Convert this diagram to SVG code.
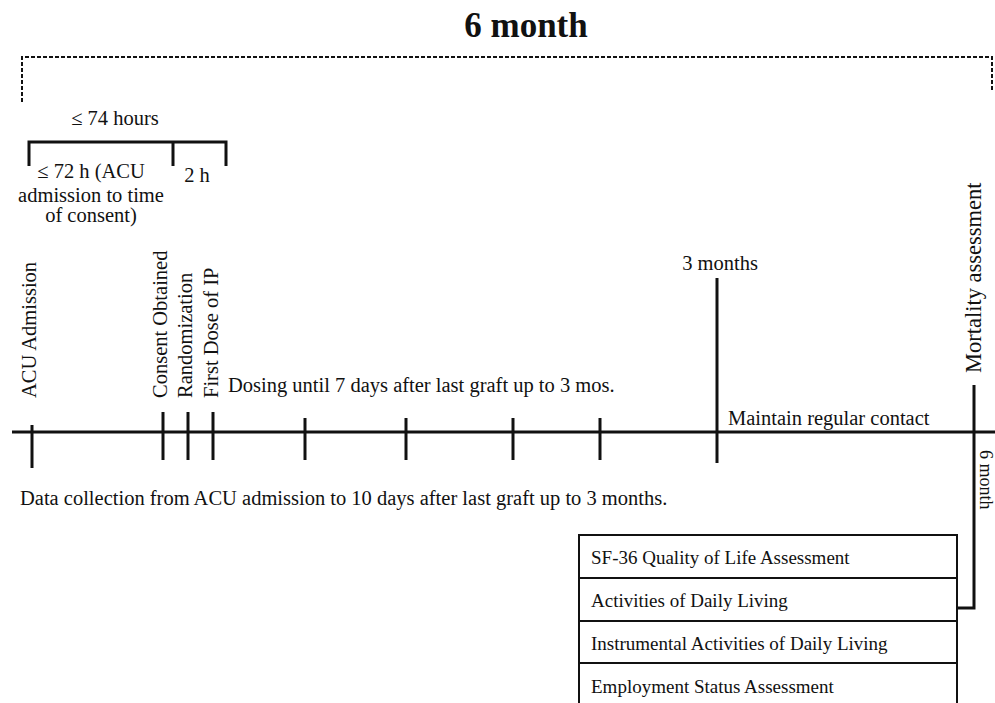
<svg xmlns="http://www.w3.org/2000/svg" width="995" height="703" viewBox="0 0 995 703">
<style>
text{font-family:"Liberation Serif","Times New Roman",serif;fill:#111;font-size:20.5px}
.title{font-size:35px;font-weight:bold}
.big{font-size:22.5px}
.tbl{font-size:19px}
.edge{font-size:18px}
.ln{stroke:#111;stroke-width:3;fill:none}
.tk{stroke:#111;stroke-width:3}
.dash{stroke:#111;stroke-width:2;fill:none;stroke-dasharray:4 2}
.grid{stroke:#111;stroke-width:2;fill:none}
</style>
<rect width="995" height="703" fill="#fff"/>
<g id="title">
<text class="title" x="526" y="37" text-anchor="middle">6 month</text>
<path class="dash" d="M22,102 V57 H992 V92"/>
</g>
<g id="bracket74">
<text x="115" y="125" text-anchor="middle">≤ 74 hours</text>
<path class="ln" d="M29,166 V142 H226 V166 M173,142 V166"/>
<text x="91" y="178" text-anchor="middle">≤ 72 h (ACU</text>
<text x="91" y="202" text-anchor="middle">admission to time</text>
<text x="91" y="222" text-anchor="middle">of consent)</text>
<text x="197" y="182" text-anchor="middle">2 h</text>
</g>
<g id="labels">
<text x="36" y="398" transform="rotate(-90 36 398)">ACU Admission</text>
<text x="167" y="398" transform="rotate(-90 167 398)">Consent Obtained</text>
<text x="192" y="398" transform="rotate(-90 192 398)">Randomization</text>
<text x="218" y="398" transform="rotate(-90 218 398)">First Dose of IP</text>
<text x="228" y="392">Dosing until 7 days after last graft up to 3 mos.</text>
<text x="720" y="270" text-anchor="middle">3 months</text>
<text x="728" y="425">Maintain regular contact</text>
<text class="big" x="981" y="373" transform="rotate(-90 981 373)">Mortality assessment</text>
<text class="edge" x="980" y="450" transform="rotate(90 980 450)">6 month</text>
<text x="20" y="505">Data collection from ACU admission to 10 days after last graft up to 3 months.</text>
</g>
<g id="connectors">
<line class="tk" x1="12" y1="432" x2="995" y2="432"/>
<line class="tk" x1="32" y1="425" x2="32" y2="468"/>
<line class="tk" x1="163" y1="412" x2="163" y2="460"/>
<line class="tk" x1="188" y1="412" x2="188" y2="460"/>
<line class="tk" x1="213" y1="412" x2="213" y2="460"/>
<line class="tk" x1="305" y1="418" x2="305" y2="460"/>
<line class="tk" x1="406" y1="418" x2="406" y2="460"/>
<line class="tk" x1="513" y1="418" x2="513" y2="460"/>
<line class="tk" x1="600" y1="418" x2="600" y2="460"/>
<line class="tk" x1="717" y1="278" x2="717" y2="463"/>
<path class="ln" d="M974,385 V608 H957"/>
</g>
<g id="table">
<path class="grid" d="M579,703 V535 H957 V703 M579,578 H957 M579,621 H957 M579,663 H957"/>
<text class="tbl" x="591" y="564">SF-36 Quality of Life Assessment</text>
<text class="tbl" x="591" y="607">Activities of Daily Living</text>
<text class="tbl" x="591" y="650">Instrumental Activities of Daily Living</text>
<text class="tbl" x="591" y="693">Employment Status Assessment</text>
</g>
</svg>
